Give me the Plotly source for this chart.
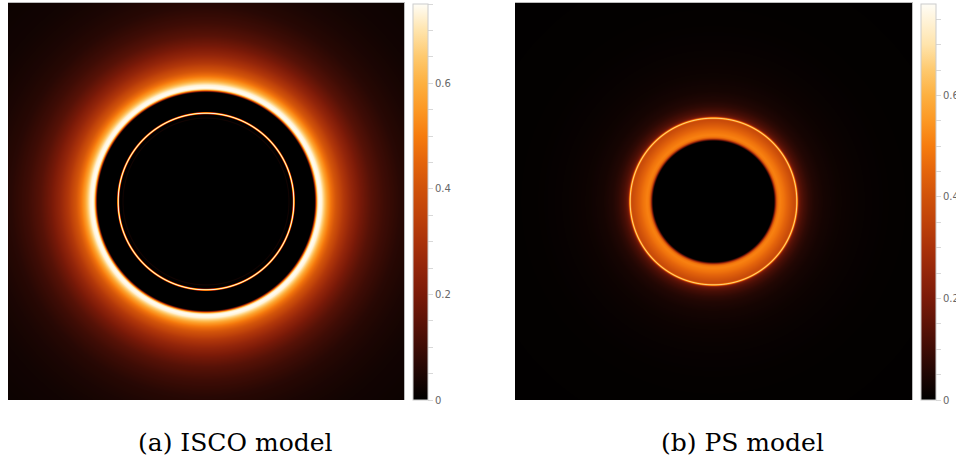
import numpy as np
import plotly.graph_objects as go

W, H = 956, 460

# Radial intensity profiles (radius in gravitational units, intensity)
isco_r = [0.0, 8.30, 8.38, 8.46, 8.74, 8.79, 8.84, 8.90, 8.95, 9.00, 10.98,
          11.08, 11.18, 11.30, 11.45, 11.70, 11.95, 12.25, 12.65, 13.10, 13.90,
          14.75, 15.66, 16.67, 17.98, 19.70, 21.72, 24.24, 29.30]
isco_i = [0.0, 0.0, 0.04, 0.0, 0.0, 0.50, 0.74, 0.74, 0.50, 0.0, 0.0,
          0.25, 0.55, 0.72, 0.75, 0.73, 0.65, 0.56, 0.48, 0.41, 0.32,
          0.25, 0.19, 0.14, 0.10, 0.065, 0.045, 0.030, 0.018]

ps_r = [0.0, 6.06, 6.16, 6.31, 6.46, 6.67, 7.07, 7.47, 7.88, 8.20, 8.28,
        8.33, 8.40, 8.45, 8.52, 8.60, 8.80, 9.09, 9.60, 10.10, 11.10, 12.60,
        14.60, 17.20, 20.20, 29.30]
ps_i = [0.0, 0.0, 0.15, 0.40, 0.49, 0.51, 0.48, 0.44, 0.40, 0.37, 0.45,
        0.66, 0.66, 0.45, 0.24, 0.18, 0.14, 0.11, 0.075, 0.055, 0.035, 0.022,
        0.014, 0.008, 0.005, 0.003]

isco_zmax = 0.75
ps_zmax = 0.78

# Colour stops in intensity units
color_vals = [0.00, 0.05, 0.10, 0.15, 0.20, 0.25, 0.30, 0.35, 0.40, 0.45,
              0.50, 0.55, 0.60, 0.65, 0.70]
color_hex = ["#000000", "#1e0603", "#3e0c05", "#5d1307", "#7b1a08", "#93250a",
             "#aa320a", "#bf420a", "#d0520a", "#e4640b", "#f67c0e", "#fc9824",
             "#fdb040", "#fec96e", "#ffe4ac"]
top_color = "#fffdf6"

tick_major = [0, 0.2, 0.4, 0.6]

half = 20.0
npix = 396
sup = 3


def render(r_pts, i_pts):
    n = npix * sup
    c = (np.arange(n) + 0.5) / n * 2 * half - half
    xx, yy = np.meshgrid(c, c)
    rr = np.hypot(xx, yy)
    img = np.interp(rr, r_pts, i_pts)
    img = img.reshape(npix, sup, npix, sup).mean(axis=(1, 3))
    return np.round(img, 4)


def scale_for(zmax):
    stops = [[v / zmax, col] for v, col in zip(color_vals, color_hex) if v < zmax]
    stops.append([1.0, top_color])
    return stops


def colorbar_for(x0, zmax):
    vals = [round(v, 2) for v in np.arange(0, zmax + 1e-9, 0.05)]
    text = [("0" if v == 0 else f"{v:.1f}") if any(abs(v - m) < 1e-9 for m in tick_major) else ""
            for v in vals]
    return dict(
        x=x0 / W, xanchor="left", xpad=0,
        y=(H - 400) / H, yanchor="bottom", ypad=0,
        len=396, lenmode="pixels", thickness=15, thicknessmode="pixels",
        outlinecolor="#cccccc", outlinewidth=1,
        tickmode="array", tickvals=vals, ticktext=text,
        ticks="outside", ticklen=5, tickcolor="#d8d8d8", tickwidth=1,
        tickfont=dict(family="DejaVu Sans", size=10, color="#666666"),
    )


coords = (np.arange(npix) + 0.5) / npix * 2 * half - half

fig = go.Figure()
fig.add_trace(go.Heatmap(
    z=render(isco_r, isco_i), x=coords, y=coords,
    zmin=0, zmax=isco_zmax, colorscale=scale_for(isco_zmax),
    colorbar=colorbar_for(413, isco_zmax), xaxis="x", yaxis="y",
    hoverinfo="skip",
))
fig.add_trace(go.Heatmap(
    z=render(ps_r, ps_i), x=coords, y=coords,
    zmin=0, zmax=ps_zmax, colorscale=scale_for(ps_zmax),
    colorbar=colorbar_for(921, ps_zmax), xaxis="x2", yaxis="y2",
    hoverinfo="skip",
))

ydom = [(H - 400) / H, (H - 3) / H]
ax_common = dict(range=[-half, half], showgrid=False, zeroline=False,
                 showticklabels=False, ticks="", showline=True,
                 linecolor="#bbbbbb", linewidth=1)
caption_font = dict(family="DejaVu Serif", size=25, color="black")
fig.update_layout(
    width=W, height=H,
    margin=dict(l=0, r=0, t=0, b=0, autoexpand=False),
    paper_bgcolor="white", plot_bgcolor="black",
    xaxis=dict(domain=[8 / W, 404 / W], side="top", anchor="y", **ax_common),
    yaxis=dict(domain=ydom, side="right", anchor="x", **ax_common),
    xaxis2=dict(domain=[515 / W, 912 / W], side="top", anchor="y2", **ax_common),
    yaxis2=dict(domain=ydom, side="right", anchor="x2", **ax_common),
    annotations=[
        dict(text="(a) ISCO model", x=235 / W, y=(H - 442) / H, xref="paper", yref="paper",
             xanchor="center", yanchor="middle", showarrow=False, font=caption_font),
        dict(text="(b) PS model", x=742 / W, y=(H - 442) / H, xref="paper", yref="paper",
             xanchor="center", yanchor="middle", showarrow=False, font=caption_font),
    ],
)

fig.write_html("out.html")
